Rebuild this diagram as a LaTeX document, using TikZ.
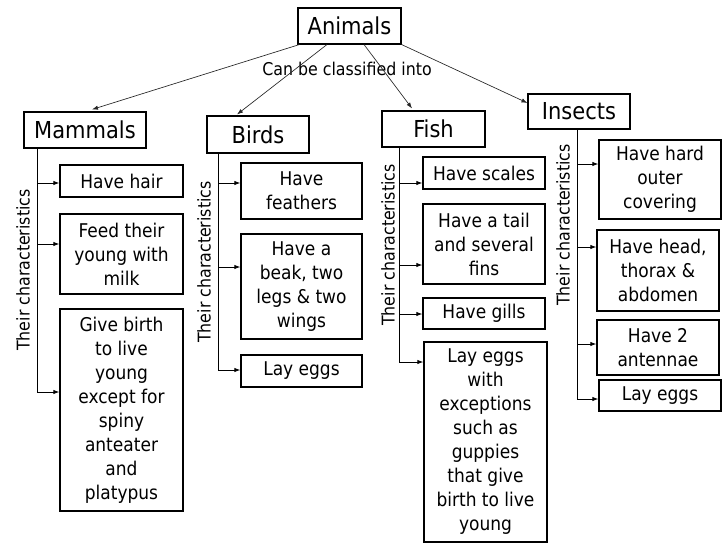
\documentclass[tikz,border=0pt]{standalone}
\usepackage{fontspec}
\setmainfont{DejaVu Sans Condensed}
\usetikzlibrary{arrows.meta}
\tikzset{
  box/.style={draw, line width=0.8pt, align=center, inner sep=0pt,
    font=\fontsize{14.2}{18}\selectfont},
  titlebox/.style={box, font=\fontsize{17.5}{20}\selectfont},
  conn/.style={line width=0.65pt, -{Latex[length=4.5pt,width=3.2pt]}},
  topconn/.style={line width=0.5pt, draw=black!85, -{Latex[length=4.5pt,width=3.2pt]}},
  vline/.style={line width=0.65pt},
  sidelabel/.style={rotate=90, font=\fontsize{13.2}{15}\selectfont, inner sep=0pt},
}
\newcommand\bx[7]{%
  \node[#6, minimum width={(#4-#2)*0.75pt}, minimum height={(#5-#3)*0.75pt}]
    (#1) at ({(#2+#4)/2},{(#3+#5)/2}) {#7};}
\begin{document}
\begin{tikzpicture}[x=0.75pt,y=-0.75pt]
\useasboundingbox (0,0) rectangle (728,546);
% top level
\bx{ani}{298}{8}{401}{44}{titlebox}{Animals}
\bx{mam}{24}{112}{146}{148}{titlebox}{Mammals}
\bx{bird}{207}{116}{309}{153}{titlebox}{Birds}
\bx{fish}{382}{111}{485}{147}{titlebox}{Fish}
\bx{ins}{528}{94}{630}{129}{titlebox}{Insects}
\node[font=\fontsize{13.2}{15}\selectfont, inner sep=0pt] (cbc) at (347,69) {Can be classified into};
% mammals
\bx{hair}{60}{165}{183}{197}{box}{Have hair}
\bx{feed}{60}{214}{183}{294}{box}{Feed their\\young with\\milk}
\bx{give}{60}{309}{183}{511}{box}{Give birth\\to live\\young\\except for\\spiny\\anteater\\and\\platypus}
% birds
\bx{feath}{241}{163}{362}{219}{box}{Have\\feathers}
\bx{beak}{241}{234}{362}{339}{box}{Have a\\beak, two\\legs \& two\\wings}
\bx{beggs}{241}{355}{362}{387}{box}{Lay eggs}
% fish
\bx{scales}{423}{157}{545}{189}{box}{Have scales}
\bx{tail}{423}{204}{545}{284}{box}{Have a tail\\and several\\fins}
\bx{gills}{423}{298}{545}{329}{box}{Have gills}
\bx{feggs}{424}{342}{547}{542}{box}{Lay eggs\\with\\exceptions\\such as\\guppies\\that give\\birth to live\\young}
% insects
\bx{hard}{599}{140}{721}{219}{box}{Have hard\\outer\\covering}
\bx{head}{597}{230}{719}{311}{box}{Have head,\\thorax \&\\abdomen}
\bx{ant}{597}{320}{719}{375}{box}{Have 2\\antennae}
\bx{ieggs}{599}{380}{721}{411}{box}{Lay eggs}
% side labels
\node[sidelabel] (lm) at (23,270) {Their characteristics};
\node[sidelabel] (lb) at (204,262) {Their characteristics};
\node[sidelabel] (lf) at (388,245) {Their characteristics};
\node[sidelabel] (li) at (563,225) {Their characteristics};
% top arrows
\draw[topconn] ([xshift=1.5pt]ani.south west) -- ([xshift=5.25pt,yshift=1.5pt]mam.north);
\draw[topconn] ([xshift=-16.9pt]ani.south) -- ([xshift=-15.75pt,yshift=0.75pt]bird.north);
\draw[topconn] ([xshift=10.9pt]ani.south) -- ([xshift=-16.1pt,yshift=1.5pt]fish.north);
\draw[topconn] (ani.south east) -- ([yshift=6.4pt]ins.west);
% mammals tree
\coordinate (mend) at (37,392);
\draw[vline] (mam.south -| mend) -- (mend);
\draw[conn] (mend |- 0,183) -- (hair.west |- 0,183);
\draw[conn] (mend |- 0,244) -- (feed.west |- 0,244);
\draw[conn] (mend) -- (give.west |- mend);
% birds tree
\coordinate (bend) at (218,370);
\draw[vline] (bird.south -| bend) -- (bend);
\draw[conn] (bend |- 0,183) -- (feath.west |- 0,183);
\draw[conn] (bend |- 0,267) -- (beak.west |- 0,267);
\draw[conn] (bend) -- (beggs.west |- bend);
% fish tree
\coordinate (fend) at (399,362);
\draw[vline] (fish.south -| fend) -- (fend);
\draw[conn] (fend |- 0,183) -- (scales.west |- 0,183);
\draw[conn] (fend |- 0,265) -- (tail.west |- 0,265);
\draw[conn] (fend |- 0,314) -- (gills.west |- 0,314);
\draw[conn] (fend) -- (feggs.west |- fend);
% insects tree
\coordinate (iend) at (577,399);
\draw[vline] (ins.south -| iend) -- (iend);
\draw[conn] (iend |- 0,164) -- (hard.west |- 0,164);
\draw[conn] (iend |- 0,247) -- (head.west |- 0,247);
\draw[conn] (iend |- 0,344) -- (ant.west |- 0,344);
\draw[conn] (iend) -- (ieggs.west |- iend);
\end{tikzpicture}
\end{document}
